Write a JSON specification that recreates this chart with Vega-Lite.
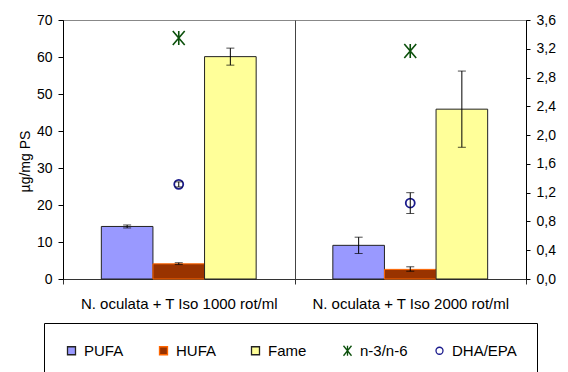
{
  "$schema": "https://vega.github.io/schema/vega-lite/v6.json",
  "width": 463,
  "height": 259,
  "autosize": "none",
  "padding": {"left": 63, "top": 20, "right": 42, "bottom": 93},
  "background": "white",
  "datasets": {
    "bars": [
      {"grp": "N. oculata + T Iso 1000 rot/ml", "series": "PUFA", "value": 14.2, "lo": 13.8, "hi": 14.6},
      {"grp": "N. oculata + T Iso 1000 rot/ml", "series": "HUFA", "value": 4.1, "lo": 3.9, "hi": 4.4},
      {"grp": "N. oculata + T Iso 1000 rot/ml", "series": "Fame", "value": 60.1, "lo": 57.8, "hi": 62.4},
      {"grp": "N. oculata + T Iso 2000 rot/ml", "series": "PUFA", "value": 9.1, "lo": 6.9, "hi": 11.3},
      {"grp": "N. oculata + T Iso 2000 rot/ml", "series": "HUFA", "value": 2.6, "lo": 2.1, "hi": 3.3},
      {"grp": "N. oculata + T Iso 2000 rot/ml", "series": "Fame", "value": 45.9, "lo": 35.6, "hi": 56.2}
    ],
    "points": [
      {"grp": "N. oculata + T Iso 1000 rot/ml", "series": "n-3/n-6", "value": 3.35},
      {"grp": "N. oculata + T Iso 1000 rot/ml", "series": "DHA/EPA", "value": 1.316, "lo": 1.28, "hi": 1.35},
      {"grp": "N. oculata + T Iso 2000 rot/ml", "series": "n-3/n-6", "value": 3.17},
      {"grp": "N. oculata + T Iso 2000 rot/ml", "series": "DHA/EPA", "value": 1.056, "lo": 0.91, "hi": 1.2}
    ]
  },
  "config": {
    "view": {"stroke": "#888888", "strokeWidth": 1},
    "font": "Liberation Sans",
    "axis": {
      "labelFont": "Liberation Sans",
      "titleFont": "Liberation Sans",
      "labelColor": "#000000",
      "titleColor": "#000000",
      "domainColor": "#000000",
      "tickColor": "#000000",
      "titleFontWeight": "normal",
      "labelOverlap": false,
      "grid": false
    },
    "legend": {
      "labelFont": "Liberation Sans",
      "labelFontSize": 15,
      "labelColor": "#000000"
    }
  },
  "layer": [
    {
      "data": {"name": "bars"},
      "encoding": {
        "x": {
          "field": "grp",
          "type": "nominal",
          "sort": null,
          "scale": {"paddingInner": 0, "paddingOuter": 0},
          "axis": {
            "title": null,
            "labelAngle": 0,
            "labelFontSize": 15,
            "labelLimit": 0,
            "tickBand": "extent",
            "tickSize": 5,
            "labelPadding": 12,
            "domainColor": "#333333",
            "tickColor": "#333333",
            "grid": true,
            "gridColor": "#444444",
            "gridWidth": 1,
            "gridOpacity": 1
          }
        },
        "xOffset": {
          "field": "series",
          "type": "nominal",
          "sort": null,
          "scale": {"domain": ["PUFA", "HUFA", "Fame"], "paddingInner": 0, "paddingOuter": 0.743}
        }
      },
      "layer": [
        {
          "mark": {"type": "bar", "strokeWidth": 1},
          "encoding": {
            "y": {
              "field": "value",
              "type": "quantitative",
              "scale": {"domain": [0, 70], "nice": false},
              "axis": {
                "orient": "left",
                "title": "µg/mg PS",
                "titleFontSize": 14,
                "titlePadding": 4,
                "titleY": 141,
                "values": [0, 10, 20, 30, 40, 50, 60, 70],
                "labelFontSize": 14,
                "tickSize": 5,
                "labelPadding": 6
              }
            },
            "color": {
              "field": "series",
              "type": "nominal",
              "scale": {
                "domain": ["PUFA", "HUFA", "Fame", "n-3/n-6", "DHA/EPA"],
                "range": ["#9999FF", "#993300", "#FFFF99", "#0B500B", "#1A1A8C"]
              },
              "legend": {
                "title": null,
                "orient": "none",
                "legendX": -19,
                "legendY": 303,
                "direction": "horizontal",
                "columns": 5,
                "gridAlign": "all",
                "columnPadding": 7,
                "padding": 20,
                "strokeColor": "#000000",
                "labelOffset": 5,
                "encode": {
                  "symbols": {
                    "update": {
                      "shape": {"signal": "datum.value === 'n-3/n-6' ? 'M-0.8,-1L0.8,1M-0.8,1L0.8,-1M0,-1L0,1' : datum.value === 'DHA/EPA' ? 'circle' : 'square'"},
                      "fillOpacity": {"signal": "(datum.value === 'n-3/n-6' || datum.value === 'DHA/EPA') ? 0 : 1"},
                      "stroke": {"signal": "datum.value === 'HUFA' ? '#FF6600' : datum.value === 'n-3/n-6' ? '#0B500B' : datum.value === 'DHA/EPA' ? '#1A1A8C' : '#000000'"},
                      "size": {"signal": "datum.value === 'n-3/n-6' ? 100 : datum.value === 'DHA/EPA' ? 49 : 64"},
                      "strokeWidth": {"value": 1.3},
                      "opacity": {"value": 1}
                    }
                  }
                }
              }
            },
            "stroke": {
              "field": "series",
              "type": "nominal",
              "scale": {
                "domain": ["PUFA", "HUFA", "Fame", "n-3/n-6", "DHA/EPA"],
                "range": ["#222222", "#FF6600", "#222222", "#0B500B", "#1A1A8C"]
              },
              "legend": null
            }
          }
        },
        {
          "mark": {"type": "rule", "color": "#000000", "strokeWidth": 1},
          "encoding": {
            "y": {
              "field": "lo",
              "type": "quantitative",
              "axis": {
                "orient": "left",
                "title": "µg/mg PS",
                "titleFontSize": 14,
                "titlePadding": 4,
                "titleY": 141,
                "values": [0, 10, 20, 30, 40, 50, 60, 70],
                "labelFontSize": 14,
                "tickSize": 5,
                "labelPadding": 6
              }
            },
            "y2": {"field": "hi"}
          }
        },
        {
          "mark": {"type": "tick", "color": "#000000", "thickness": 1, "size": 8, "orient": "horizontal"},
          "encoding": {
            "y": {
              "field": "lo",
              "type": "quantitative",
              "axis": {
                "orient": "left",
                "title": "µg/mg PS",
                "titleFontSize": 14,
                "titlePadding": 4,
                "titleY": 141,
                "values": [0, 10, 20, 30, 40, 50, 60, 70],
                "labelFontSize": 14,
                "tickSize": 5,
                "labelPadding": 6
              }
            }
          }
        },
        {
          "mark": {"type": "tick", "color": "#000000", "thickness": 1, "size": 8, "orient": "horizontal"},
          "encoding": {
            "y": {
              "field": "hi",
              "type": "quantitative",
              "axis": {
                "orient": "left",
                "title": "µg/mg PS",
                "titleFontSize": 14,
                "titlePadding": 4,
                "titleY": 141,
                "values": [0, 10, 20, 30, 40, 50, 60, 70],
                "labelFontSize": 14,
                "tickSize": 5,
                "labelPadding": 6
              }
            }
          }
        }
      ]
    },
    {
      "data": {"name": "points"},
      "encoding": {
        "x": {"field": "grp", "type": "nominal", "sort": null}
      },
      "layer": [
        {
          "transform": [{"filter": "datum.series === 'n-3/n-6'"}],
          "mark": {"type": "point", "filled": false, "shape": "M-0.85,-1L0.85,1M-0.85,1L0.85,-1M0,-1L0,1", "size": 196, "strokeWidth": 1.6, "opacity": 1},
          "encoding": {
            "y": {
              "field": "value",
              "type": "quantitative",
              "scale": {"domain": [0, 3.6], "nice": false},
              "axis": {
                "orient": "right",
                "title": null,
                "values": [0, 0.4, 0.8, 1.2, 1.6, 2.0, 2.4, 2.8, 3.2, 3.6],
                "labelExpr": "replace(format(datum.value, '.1f'), '.', ',')",
                "labelFontSize": 14,
                "tickSize": 4,
                "labelPadding": 6
              }
            },
            "stroke": {"field": "series", "type": "nominal", "legend": null}
          }
        },
        {
          "transform": [{"filter": "datum.series === 'DHA/EPA'"}],
          "mark": {"type": "point", "filled": false, "shape": "circle", "size": 81, "strokeWidth": 1.8, "opacity": 1},
          "encoding": {
            "y": {
              "field": "value",
              "type": "quantitative",
              "axis": {
                "orient": "right",
                "title": null,
                "values": [0, 0.4, 0.8, 1.2, 1.6, 2.0, 2.4, 2.8, 3.2, 3.6],
                "labelExpr": "replace(format(datum.value, '.1f'), '.', ',')",
                "labelFontSize": 14,
                "tickSize": 4,
                "labelPadding": 6
              }
            },
            "stroke": {"field": "series", "type": "nominal", "legend": null}
          }
        },
        {
          "mark": {"type": "rule", "color": "#000000", "strokeWidth": 1},
          "encoding": {
            "y": {
              "field": "lo",
              "type": "quantitative",
              "axis": {
                "orient": "right",
                "title": null,
                "values": [0, 0.4, 0.8, 1.2, 1.6, 2.0, 2.4, 2.8, 3.2, 3.6],
                "labelExpr": "replace(format(datum.value, '.1f'), '.', ',')",
                "labelFontSize": 14,
                "tickSize": 4,
                "labelPadding": 6
              }
            },
            "y2": {"field": "hi"}
          }
        },
        {
          "mark": {"type": "tick", "color": "#000000", "thickness": 1, "size": 8, "orient": "horizontal"},
          "encoding": {
            "y": {
              "field": "lo",
              "type": "quantitative",
              "axis": {
                "orient": "right",
                "title": null,
                "values": [0, 0.4, 0.8, 1.2, 1.6, 2.0, 2.4, 2.8, 3.2, 3.6],
                "labelExpr": "replace(format(datum.value, '.1f'), '.', ',')",
                "labelFontSize": 14,
                "tickSize": 4,
                "labelPadding": 6
              }
            }
          }
        },
        {
          "mark": {"type": "tick", "color": "#000000", "thickness": 1, "size": 8, "orient": "horizontal"},
          "encoding": {
            "y": {
              "field": "hi",
              "type": "quantitative",
              "axis": {
                "orient": "right",
                "title": null,
                "values": [0, 0.4, 0.8, 1.2, 1.6, 2.0, 2.4, 2.8, 3.2, 3.6],
                "labelExpr": "replace(format(datum.value, '.1f'), '.', ',')",
                "labelFontSize": 14,
                "tickSize": 4,
                "labelPadding": 6
              }
            }
          }
        }
      ]
    }
  ],
  "resolve": {"scale": {"y": "independent", "color": "shared", "stroke": "shared"}}
}
